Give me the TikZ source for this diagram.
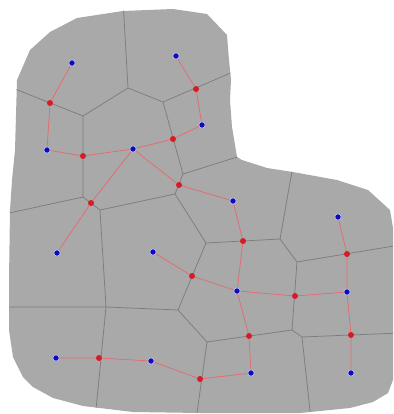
\documentclass[tikz,border=0pt]{standalone}
\definecolor{cellfill}{RGB}{169,169,169}
\definecolor{celledge}{RGB}{126,126,126}
\definecolor{siteblue}{RGB}{12,12,185}
\definecolor{cutred}{RGB}{214,28,38}
\usepackage{tikz}
\tikzset{
  site/.style={circle, fill=siteblue, draw=siteblue!30, line width=0.6pt,
               inner sep=0pt, minimum size=1.6mm},
  cut/.style={circle, fill=cutred, inner sep=0pt, minimum size=1.5mm},
  link/.style={cutred!65, line width=0.55pt},
  wall/.style={celledge, line width=0.55pt},
}
\newcommand{\cellhull}{(17,80) -- (30,50) -- (50,32) -- (77,18) -- (123,11)
  -- (173,9) -- (207,14) -- (227,35) -- (229,60) -- (231,80) -- (230,100)
  -- (232,127) -- (237,157) -- (242,160) -- (267,168) -- (293,172)
  -- (337,180) -- (368,190) -- (390,210) -- (393,228) -- (393,380)
  -- (388,393) -- (373,402) -- (350,408) -- (300,413) -- (200,413)
  -- (133,412) -- (83,406) -- (53,398) -- (33,387) -- (23,377) -- (13,357)
  -- (9,330) -- (9,280) -- (10,210) -- (12,180) -- (15,150) -- cycle}

\begin{document}
\begin{tikzpicture}[x=0.025cm, y=-0.025cm]
        \useasboundingbox (0,0) rectangle (394,414);
        % ===================== region =====================
        \fill[cellfill] \cellhull;
        % ===================== voronoi cells =====================
        \coordinate (v1)  at (128,88);
        \coordinate (v2)  at (83,116);
        \coordinate (v3)  at (163,102);
        \coordinate (v4)  at (83,197);
        \coordinate (v5)  at (100,210);
        \coordinate (v6)  at (106,307);
        \coordinate (v7)  at (175,194);
        \coordinate (v8)  at (183,174);
        \coordinate (v9)  at (206,243);
        \coordinate (v10) at (280,239);
        \coordinate (v11) at (297,262);
        \coordinate (v12) at (292,330);
        \coordinate (v13) at (178,310);
        \coordinate (v14) at (207,342);
        \coordinate (v15) at (302,337);
        \begin{scope}
          \clip \cellhull;
          \draw[wall] (123,0) -- (v1) -- (v2) -- (5,85);
          \draw[wall] (v1) -- (v3) -- (240,69);
          \draw[wall] (v3) -- (v8) -- (250,153);
          \draw[wall] (v2) -- (v4) -- (v5) -- (v7) -- (v8);
          \draw[wall] (v4) -- (0,215);
          \draw[wall] (v5) -- (v6) -- (0,307);
          \draw[wall] (v6) -- (95,420);
          \draw[wall] (v7) -- (v9) -- (v10) -- (v11) -- (v12) -- (v14) -- (v13) -- (v6);
          \draw[wall] (v9) -- (v13);
          \draw[wall] (v10) -- (294,160);
          \draw[wall] (v11) -- (400,245);
          \draw[wall] (v12) -- (v15) -- (400,333);
          \draw[wall] (v15) -- (311,420);
          \draw[wall] (v14) -- (196,420);
        \end{scope}
        % ===================== sites =====================
        \node[site] (s1)  at (72,63)   {};
        \node[site] (s2)  at (176,56)  {};
        \node[site] (s3)  at (47,150)  {};
        \node[site] (s4)  at (133,149) {};
        \node[site] (s5)  at (202,125) {};
        \node[site] (s6)  at (233,201) {};
        \node[site] (s7)  at (57,253)  {};
        \node[site] (s8)  at (153,252) {};
        \node[site] (s9)  at (56,358)  {};
        \node[site] (s10) at (151,361) {};
        \node[site] (s11) at (237,291) {};
        \node[site] (s12) at (251,373) {};
        \node[site] (s13) at (338,217) {};
        \node[site] (s14) at (347,292) {};
        \node[site] (s15) at (351,373) {};
        % ===================== crossings =====================
        \node[cut] (c1)  at (50,103)  {};
        \node[cut] (c2)  at (83,156)  {};
        \node[cut] (c3)  at (196,89)  {};
        \node[cut] (c4)  at (173,139) {};
        \node[cut] (c5)  at (179,185) {};
        \node[cut] (c6)  at (91,203)  {};
        \node[cut] (c7)  at (243,241) {};
        \node[cut] (c8)  at (192,276) {};
        \node[cut] (c9)  at (295,296) {};
        \node[cut] (c10) at (347,254) {};
        \node[cut] (c11) at (249,336) {};
        \node[cut] (c12) at (351,335) {};
        \node[cut] (c13) at (200,379) {};
        \node[cut] (c14) at (99,358)  {};
        % ===================== tree =====================
        \draw[link] (s1) -- (c1) -- (s3) -- (c2) -- (s4);
        \draw[link] (s4) -- (c4) -- (s5) -- (c3) -- (s2);
        \draw[link] (s4) -- (c6) -- (s7);
        \draw[link] (s4) -- (c5) -- (s6) -- (c7) -- (s11);
        \draw[link] (s8) -- (c8) -- (s11) -- (c9) -- (s14);
        \draw[link] (s13) -- (c10) -- (s14) -- (c12) -- (s15);
        \draw[link] (s11) -- (c11) -- (s12) -- (c13) -- (s10) -- (c14) -- (s9);
      \end{tikzpicture}
\end{document}
